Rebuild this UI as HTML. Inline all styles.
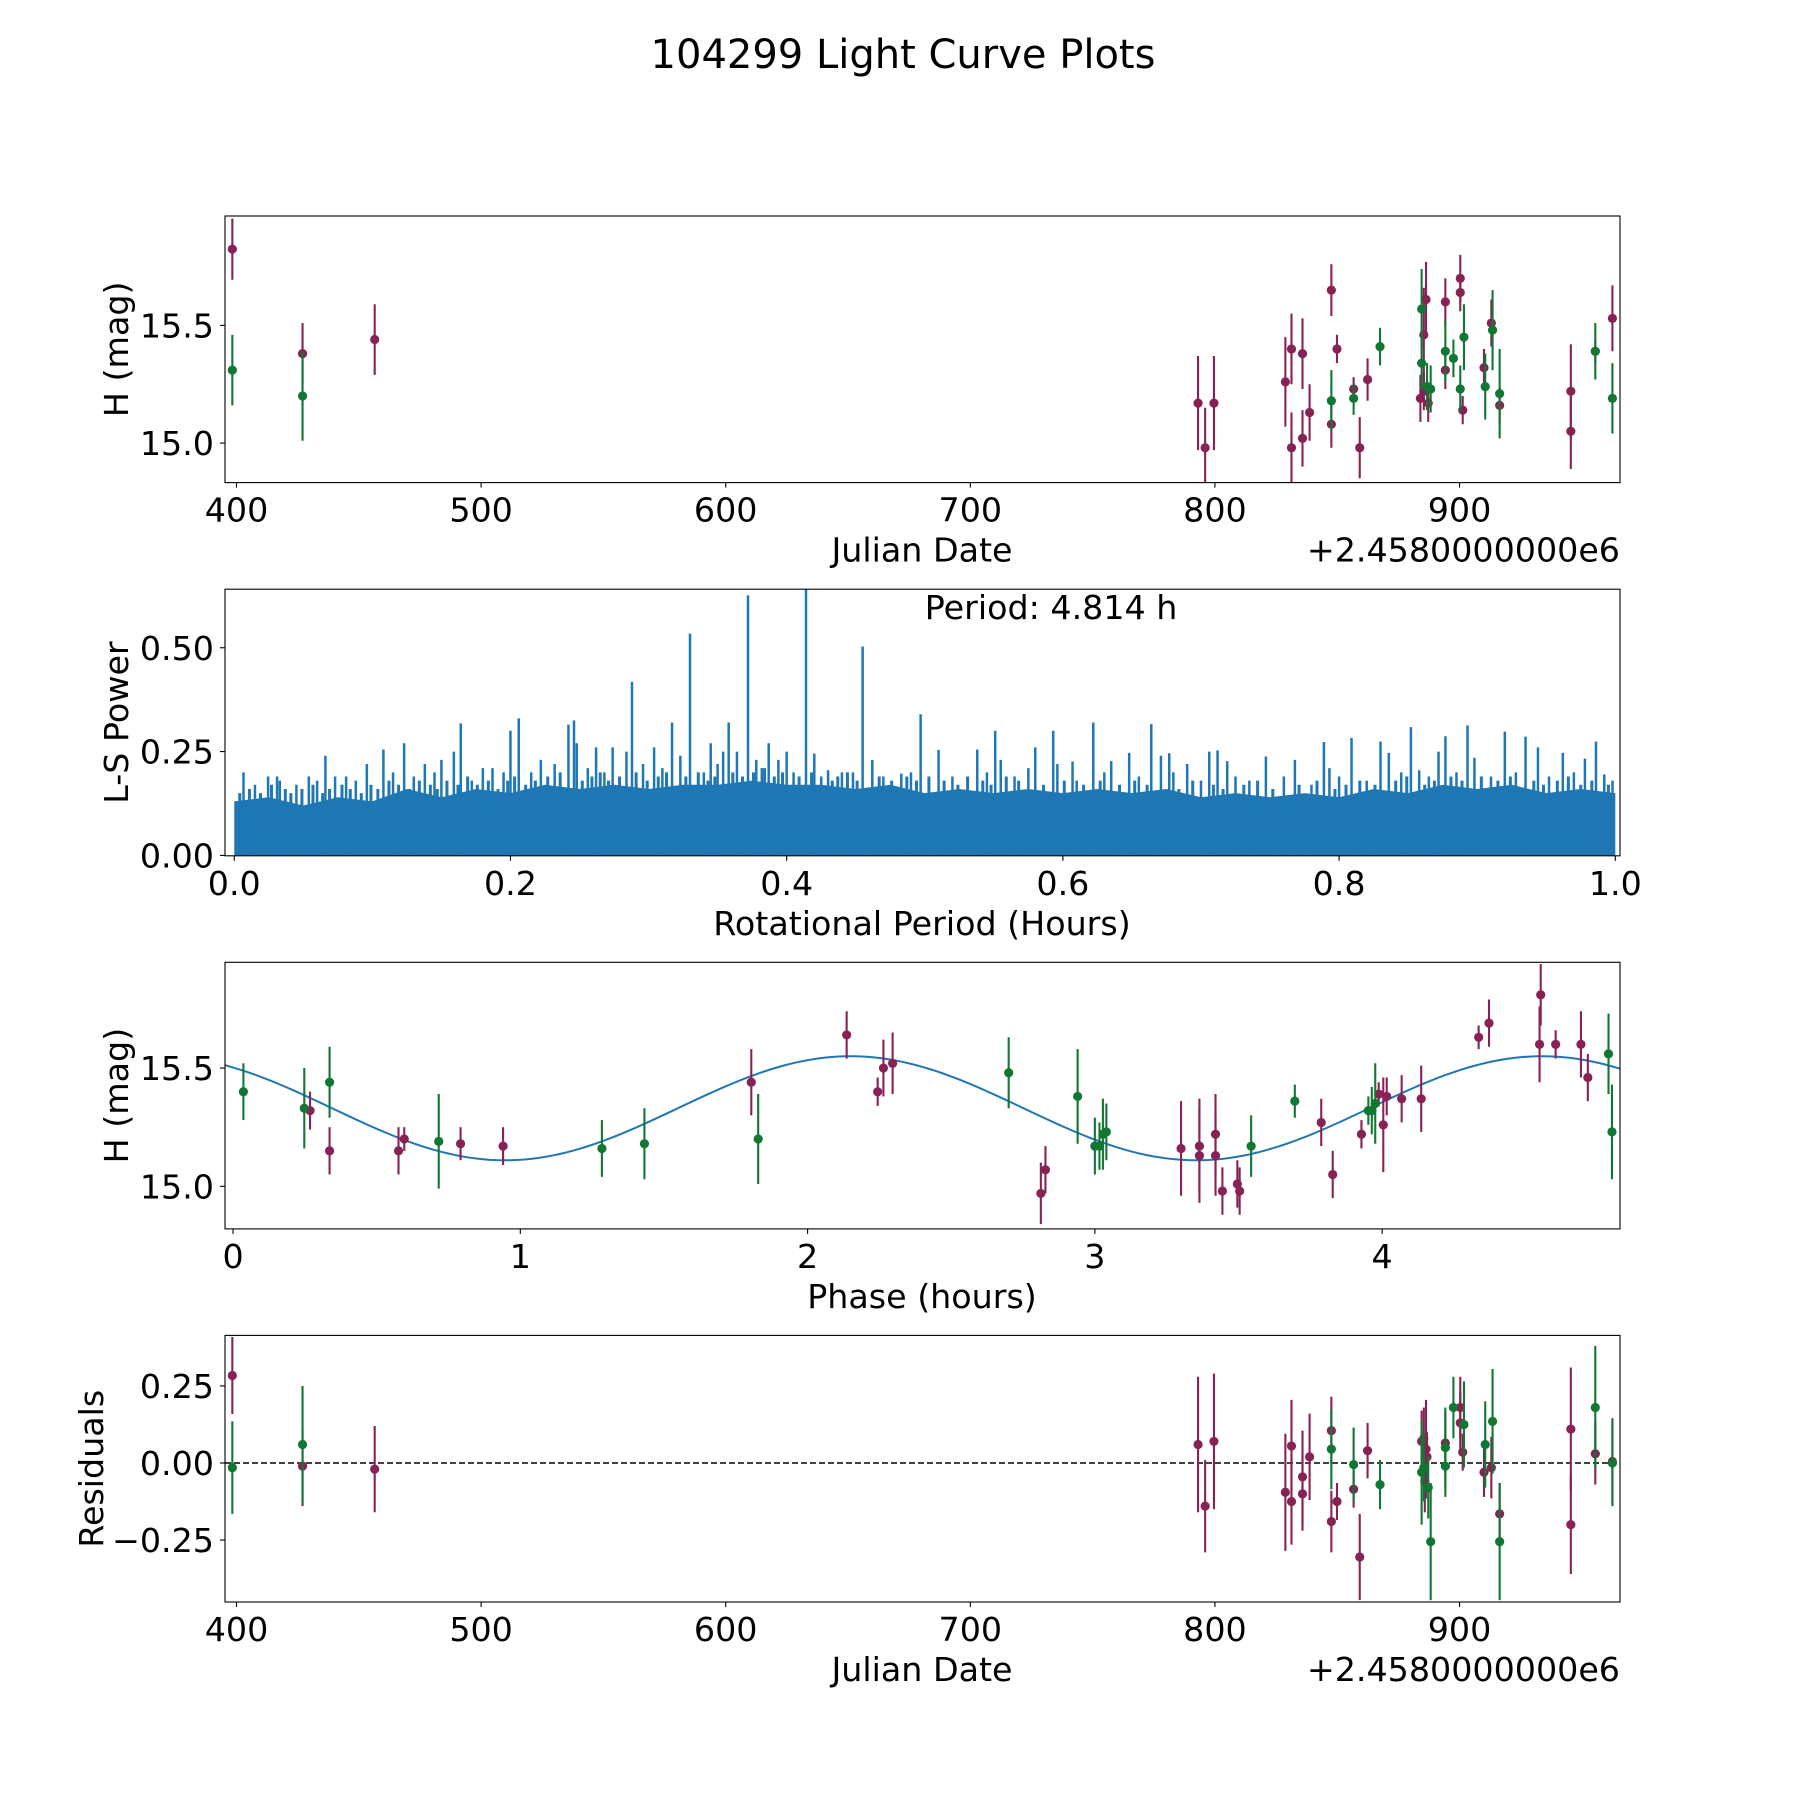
<!DOCTYPE html>
<html><head><meta charset="utf-8"><style>
html,body{margin:0;padding:0;background:#fff}
svg{display:block;font-family:"DejaVu Sans","Liberation Sans",sans-serif}
</style></head><body>
<svg id="fig" width="1800" height="1800" viewBox="0 0 1800 1800" xmlns="http://www.w3.org/2000/svg">
<rect width="1800" height="1800" fill="#fff"/>
<text x="903" y="68" font-size="40" text-anchor="middle">104299 Light Curve Plots</text>
</svg>
<script>
// ---------- Panel 1: light curve (date, mag, err)
const lcMaroonX=[398.3,427.0,456.5,793.1,796.0,799.6,828.8,831.3,831.3,835.8,835.8,838.7,847.6,847.6,849.9,856.7,859.2,862.4,885.4,886.3,884.0,885.4,887.2,894.2,894.2,900.3,900.3,901.3,910.0,913.0,916.4,945.5,945.5,955.5,962.5];
const lcMaroonY=[15.824,15.38,15.44,15.17,14.98,15.17,15.26,15.40,14.98,15.38,15.02,15.13,15.65,15.08,15.40,15.23,14.98,15.27,15.46,15.61,15.19,15.22,15.17,15.60,15.31,15.70,15.64,15.14,15.32,15.51,15.16,15.22,15.05,15.39,15.53];
const lcMaroonE=[0.13,0.13,0.15,0.2,0.17,0.2,0.19,0.15,0.15,0.15,0.12,0.12,0.11,0.1,0.06,0.05,0.13,0.09,0.2,0.16,0.1,0.08,0.08,0.1,0.08,0.1,0.08,0.06,0.08,0.1,0.08,0.2,0.16,0.05,0.14];
const lcGreenX=[398.3,427.0,847.6,856.7,867.5,884.5,884.5,886.7,888.2,894.2,897.5,900.3,901.8,910.5,913.5,916.4,955.5,962.5];
const lcGreenY=[15.31,15.20,15.18,15.19,15.41,15.57,15.34,15.24,15.23,15.39,15.36,15.23,15.45,15.24,15.48,15.21,15.39,15.19];
const lcGreenE=[0.15,0.19,0.13,0.07,0.08,0.17,0.11,0.1,0.1,0.13,0.08,0.1,0.14,0.14,0.17,0.19,0.12,0.15];
// ---------- Panel 2: periodogram
const lsPeakPeriod=[0.0067,0.0245,0.031,0.033,0.054,0.066,0.073,0.081,0.096,0.108,0.123,0.138,0.150,0.159,0.164,0.180,0.187,0.200,0.206,0.222,0.242,0.246,0.248,0.262,0.274,0.284,0.288,0.304,0.317,0.323,0.330,0.345,0.354,0.358,0.364,0.372,0.378,0.387,0.394,0.400,0.414,0.420,0.430,0.448,0.455,0.462,0.483,0.497,0.510,0.538,0.551,0.555,0.580,0.593,0.596,0.607,0.622,0.635,0.648,0.664,0.671,0.677,0.690,0.706,0.712,0.719,0.747,0.768,0.789,0.793,0.809,0.830,0.836,0.852,0.858,0.872,0.877,0.893,0.898,0.920,0.935,0.944,0.962,0.978,0.986,0.992];
const lsPeakPower=[0.20,0.19,0.19,0.18,0.19,0.24,0.19,0.19,0.22,0.255,0.27,0.22,0.23,0.25,0.318,0.21,0.21,0.30,0.33,0.23,0.315,0.325,0.27,0.26,0.26,0.25,0.418,0.26,0.32,0.24,0.534,0.27,0.25,0.32,0.25,0.626,0.23,0.27,0.23,0.25,0.70,0.245,0.205,0.20,0.503,0.23,0.197,0.34,0.254,0.255,0.30,0.23,0.26,0.30,0.22,0.226,0.32,0.227,0.247,0.316,0.24,0.246,0.22,0.25,0.253,0.227,0.238,0.23,0.273,0.21,0.283,0.274,0.247,0.309,0.205,0.25,0.287,0.313,0.235,0.298,0.286,0.26,0.247,0.233,0.274,0.195];
const lsBandPeriod=[0,0.025,0.05,0.075,0.1,0.125,0.15,0.175,0.2,0.225,0.25,0.275,0.3,0.325,0.35,0.375,0.4,0.425,0.45,0.475,0.5,0.525,0.55,0.575,0.6,0.625,0.65,0.675,0.7,0.725,0.75,0.775,0.8,0.825,0.85,0.875,0.9,0.925,0.95,0.975,1.0];
const lsBandPower=[0.13,0.14,0.12,0.14,0.13,0.16,0.14,0.16,0.15,0.17,0.16,0.17,0.16,0.17,0.17,0.18,0.17,0.17,0.16,0.17,0.15,0.16,0.15,0.16,0.15,0.16,0.15,0.16,0.14,0.15,0.14,0.15,0.14,0.16,0.15,0.17,0.16,0.17,0.15,0.16,0.15];
const lsMinorPeriod=[0.015,0.045,0.06,0.088,0.115,0.13,0.145,0.172,0.195,0.215,0.232,0.256,0.268,0.296,0.31,0.34,0.35,0.382,0.405,0.425,0.44,0.47,0.49,0.52,0.545,0.565,0.575,0.61,0.63,0.655,0.68,0.7,0.725,0.735,0.76,0.78,0.8,0.82,0.845,0.865,0.885,0.91,0.928,0.952,0.97,0.998];
const lsMinorPower=[0.17,0.17,0.18,0.18,0.2,0.19,0.2,0.18,0.2,0.2,0.22,0.21,0.2,0.22,0.21,0.2,0.22,0.21,0.2,0.19,0.2,0.19,0.2,0.19,0.2,0.19,0.21,0.18,0.2,0.19,0.2,0.18,0.19,0.18,0.19,0.17,0.19,0.18,0.2,0.19,0.2,0.19,0.2,0.19,0.2,0.18];
const lsMedPeriod=[0.004,0.011,0.019,0.027,0.037,0.041,0.049,0.057,0.064,0.069,0.078,0.084,0.092,0.099,0.104,0.112,0.119,0.127,0.134,0.142,0.147,0.154,0.162,0.169,0.176,0.184,0.191,0.198,0.203,0.211,0.218,0.227,0.236,0.252,0.259,0.265,0.271,0.279,0.291,0.299,0.307,0.313,0.327,0.336,0.343,0.348,0.361,0.368,0.376,0.384,0.391,0.397,0.409,0.418,0.433,0.437,0.444,0.451,0.467,0.476,0.487,0.494,0.503,0.514,0.524,0.531,0.542,0.548,0.559,0.568,0.586,0.601,0.615,0.627,0.641,0.652,0.661,0.684,0.694,0.709,0.716,0.731,0.741,0.752,0.771,0.784,0.797,0.805,0.815,0.826,0.841,0.849,0.862,0.869,0.881,0.889,0.903,0.915,0.924,0.941,0.948,0.958,0.966,0.975,0.983,0.995];
const lsMedPower=[0.15,0.16,0.15,0.17,0.16,0.15,0.16,0.17,0.15,0.16,0.17,0.16,0.15,0.17,0.16,0.18,0.17,0.16,0.18,0.17,0.16,0.18,0.17,0.19,0.17,0.18,0.16,0.18,0.19,0.17,0.18,0.19,0.2,0.18,0.19,0.2,0.18,0.19,0.2,0.18,0.19,0.2,0.19,0.2,0.18,0.19,0.2,0.19,0.2,0.21,0.19,0.2,0.19,0.2,0.18,0.19,0.2,0.18,0.19,0.18,0.19,0.18,0.19,0.18,0.17,0.19,0.18,0.17,0.19,0.18,0.17,0.18,0.17,0.18,0.17,0.18,0.17,0.16,0.18,0.17,0.16,0.17,0.18,0.16,0.17,0.18,0.16,0.17,0.18,0.17,0.18,0.19,0.17,0.18,0.19,0.18,0.19,0.18,0.19,0.18,0.17,0.18,0.19,0.17,0.18,0.17];
const periodLabel="Period: 4.814 h";
// ---------- Panel 3: phased curve
const phMaroonX=[0.268,0.336,0.576,0.596,0.792,0.94,1.804,2.136,2.244,2.264,2.296,2.812,2.828,3.30,3.364,3.364,3.42,3.42,3.444,3.496,3.504,3.788,3.828,3.928,3.988,4.004,4.016,4.068,4.136,4.336,4.372,4.548,4.552,4.604,4.692,4.716];
const phMaroonY=[15.32,15.15,15.15,15.20,15.18,15.17,15.44,15.64,15.40,15.50,15.52,14.97,15.07,15.16,15.17,15.13,15.22,15.13,14.98,15.01,14.98,15.27,15.05,15.22,15.39,15.26,15.38,15.37,15.37,15.63,15.69,15.60,15.81,15.60,15.60,15.46];
const phMaroonE=[0.08,0.1,0.1,0.05,0.07,0.08,0.14,0.1,0.06,0.12,0.13,0.13,0.1,0.2,0.2,0.2,0.17,0.17,0.1,0.1,0.1,0.1,0.1,0.06,0.05,0.2,0.08,0.1,0.14,0.05,0.1,0.16,0.13,0.06,0.14,0.1];
const phGreenX=[0.036,0.248,0.336,0.716,1.284,1.432,1.828,2.70,2.94,3.00,3.016,3.028,3.04,3.544,3.696,3.952,3.964,3.976,4.788,4.80];
const phGreenY=[15.40,15.33,15.44,15.19,15.16,15.18,15.20,15.48,15.38,15.17,15.17,15.22,15.23,15.17,15.36,15.32,15.32,15.35,15.56,15.23];
const phGreenE=[0.12,0.17,0.15,0.2,0.12,0.15,0.19,0.15,0.2,0.12,0.1,0.15,0.12,0.13,0.07,0.06,0.1,0.17,0.17,0.2];
const fitMean=[15.33], fitAmp=[0.22], fitPeriod=[2.407], fitPeak=[2.15];
// ---------- Panel 4: residuals
const rsMaroonX=[398.3,427.0,456.5,793.1,796.0,799.6,828.8,831.3,831.3,835.8,835.8,838.7,847.6,847.6,849.9,856.7,859.2,862.4,884.5,885.4,886.3,885.8,886.7,894.2,900.3,900.3,901.3,910.0,913.0,916.4,945.5,945.5,955.5,962.5];
const rsMaroonY=[0.284,-0.01,-0.02,0.06,-0.14,0.07,-0.095,0.055,-0.125,-0.045,-0.1,0.02,0.105,-0.19,-0.125,-0.085,-0.305,0.04,0.07,0.08,0.045,-0.06,0.02,0.065,0.18,0.13,0.035,-0.03,-0.015,-0.165,0.11,-0.2,0.03,0.005];
const rsMaroonE=[0.125,0.13,0.14,0.22,0.15,0.22,0.19,0.15,0.14,0.15,0.12,0.14,0.11,0.1,0.06,0.06,0.14,0.09,0.1,0.1,0.16,0.1,0.08,0.1,0.1,0.1,0.06,0.08,0.1,0.1,0.2,0.16,0.1,0.14];
const rsGreenX=[398.3,427.0,847.6,856.7,867.5,884.5,885.4,887.2,888.2,894.2,894.2,897.5,901.8,910.5,913.5,916.4,955.5,962.5];
const rsGreenY=[-0.015,0.06,0.045,-0.005,-0.07,-0.03,-0.015,-0.08,-0.255,0.05,-0.01,0.18,0.125,0.06,0.135,-0.255,0.18,0.0];
const rsGreenE=[0.15,0.19,0.13,0.12,0.08,0.17,0.11,0.1,0.19,0.13,0.1,0.1,0.14,0.14,0.17,0.19,0.2,0.14];

const NS='http://www.w3.org/2000/svg';
const svg=document.getElementById('fig');
const MAR='#882255', GRN='#117733', BLU='#1f77b4';
const L=225,R=1620,H=266.6;
function mk(tag,attrs,parent){const e=document.createElementNS(NS,tag);for(const k in attrs)e.setAttribute(k,attrs[k]);(parent||svg).appendChild(e);return e;}
function panel(top,xlim,ylim,name){
  const g=mk('g',{});
  
  
  const clipId='clip-'+name;
  const cp=mk('clipPath',{id:clipId},g);mk('rect',{x:L,y:top,width:R-L,height:H},cp);
  const sx=v=>L+(v-xlim[0])/(xlim[1]-xlim[0])*(R-L);
  const sy=v=>top+H-(v-ylim[0])/(ylim[1]-ylim[0])*H;
  const plot=mk('g',{'clip-path':'url(#'+clipId+')'},g);
  return {g,plot,sx,sy,top};
}
function frame(p){
  const f=mk('rect',{x:L,y:p.top,width:R-L,height:H,fill:'none',stroke:'#000','stroke-width':1.1},p.g);
  
  
}
function xticks(p,vals,labels){
  vals.forEach((v,i)=>{const x=p.sx(v);
    mk('line',{x1:x,x2:x,y1:p.top+H,y2:p.top+H+5,stroke:'#000','stroke-width':1.1},p.g);
    const t=mk('text',{x:x,y:p.top+H+39,'font-size':33.3,'text-anchor':'middle'},p.g);t.textContent=labels[i];
    
    
  });
}
function yticks(p,vals,labels){
  vals.forEach((v,i)=>{const y=p.sy(v);
    mk('line',{x1:L-5,x2:L,y1:y,y2:y,stroke:'#000','stroke-width':1.1},p.g);
    const t=mk('text',{x:L-11,y:y+12,'font-size':33.3,'text-anchor':'end'},p.g);t.textContent=labels[i];
    
    
  });
}
function label(p,text,x,y,rot,anchor,nm){
  const t=mk('text',{x:x,y:y,'font-size':33.3,'text-anchor':anchor||'middle'},p.g);
  if(rot)t.setAttribute('transform','rotate(-90 '+x+' '+y+')');
  t.textContent=text;
  
  
}
function errpts(p,xs,ys,es,col,nm){
  xs.forEach((x,i)=>{const X=p.sx(x);
    const l=mk('line',{x1:X,x2:X,y1:p.sy(ys[i]-es[i]),y2:p.sy(ys[i]+es[i]),stroke:col,'stroke-width':2.1},p.plot);
    
    
    const c=mk('circle',{cx:X,cy:p.sy(ys[i]),r:4.6,fill:col},p.plot);
    
    
  });
}
function spikes(p,xs,ys,nm,w){
  xs.forEach((x,i)=>{const X=p.sx(x);
    const l=mk('line',{x1:X,x2:X,y1:p.sy(0),y2:p.sy(ys[i]),stroke:BLU,'stroke-width':w},p.plot);
    
    
  });
}
const tops=[216,589.2,962.3,1335.4];
const jdTicks=[400,500,600,700,800,900], jdLabels=['400','500','600','700','800','900'];

// Panel 1
let p1=panel(tops[0],[395.3,965.6],[14.832,15.965],'light-curve-panel');
errpts(p1,lcMaroonX,lcMaroonY,lcMaroonE,MAR,'maroon');
errpts(p1,lcGreenX,lcGreenY,lcGreenE,GRN,'green');
frame(p1);xticks(p1,jdTicks,jdLabels);yticks(p1,[15.0,15.5],['15.0','15.5']);
label(p1,'Julian Date',922,tops[0]+H+79,false,'middle','x-axis-title');
label(p1,'+2.4580000000e6',R,tops[0]+H+79,false,'end','x-offset-text');
label(p1,'H (mag)',128,tops[0]+H/2,true,'middle','y-axis-title');

// Panel 2
let p2=panel(tops[1],[-0.0067,1.0034],[-0.001,0.641],'periodogram-panel');
let d='M'+p2.sx(lsBandPeriod[0])+','+p2.sy(0);
lsBandPeriod.forEach((x,i)=>{d+=' L'+p2.sx(x)+','+p2.sy(lsBandPower[i]);});
d+=' L'+p2.sx(lsBandPeriod[lsBandPeriod.length-1])+','+p2.sy(0)+'Z';
const band=mk('path',{d:d,fill:BLU},p2.plot);


spikes(p2,lsMedPeriod,lsMedPower,'power-medium-spike',3);
spikes(p2,lsMinorPeriod,lsMinorPower,'power-minor-spike',2.5);
spikes(p2,lsPeakPeriod,lsPeakPower,'power-peak',2.5);
frame(p2);
xticks(p2,[0,0.2,0.4,0.6,0.8,1.0],['0.0','0.2','0.4','0.6','0.8','1.0']);
yticks(p2,[0,0.25,0.5],['0.00','0.25','0.50']);
label(p2,'Rotational Period (Hours)',922,tops[1]+H+79,false,'middle','x-axis-title');
label(p2,'L-S Power',128,tops[1]+H/2,true,'middle','y-axis-title');
label(p2,periodLabel,p2.sx(0.5),tops[1]+30,false,'start','period-annotation');

// Panel 3
const phXlim=[-0.028,4.828];
let p3=panel(tops[2],phXlim,[14.82,15.947],'phase-panel');
let cd='';
for(let i=0;i<=200;i++){const x=phXlim[0]+i*((phXlim[1]-phXlim[0])/200);
  const y=fitMean[0]+fitAmp[0]*Math.cos(2*Math.PI*(x-fitPeak[0])/fitPeriod[0]);
  cd+=(i?' L':'M')+p3.sx(x)+','+p3.sy(y);}
const fit=mk('path',{d:cd,fill:'none',stroke:BLU,'stroke-width':2},p3.plot);


errpts(p3,phMaroonX,phMaroonY,phMaroonE,MAR,'maroon');
errpts(p3,phGreenX,phGreenY,phGreenE,GRN,'green');
frame(p3);
xticks(p3,[0,1,2,3,4],['0','1','2','3','4']);
yticks(p3,[15.0,15.5],['15.0','15.5']);
label(p3,'Phase (hours)',922,tops[2]+H+79,false,'middle','x-axis-title');
label(p3,'H (mag)',128,tops[2]+H/2,true,'middle','y-axis-title');

// Panel 4
let p4=panel(tops[3],[395.3,965.6],[-0.451,0.414],'residuals-panel');
const zl=mk('line',{x1:L,x2:R,y1:p4.sy(0),y2:p4.sy(0),stroke:'#000','stroke-width':1.6,'stroke-dasharray':'6,3'},p4.plot);


errpts(p4,rsMaroonX,rsMaroonY,rsMaroonE,MAR,'maroon');
errpts(p4,rsGreenX,rsGreenY,rsGreenE,GRN,'green');
frame(p4);xticks(p4,jdTicks,jdLabels);
yticks(p4,[-0.25,0,0.25],['\u22120.25','0.00','0.25']);
label(p4,'Julian Date',922,tops[3]+H+79,false,'middle','x-axis-title');
label(p4,'+2.4580000000e6',R,tops[3]+H+79,false,'end','x-offset-text');
label(p4,'Residuals',103,tops[3]+H/2,true,'middle','y-axis-title');
</script>
</body></html>
